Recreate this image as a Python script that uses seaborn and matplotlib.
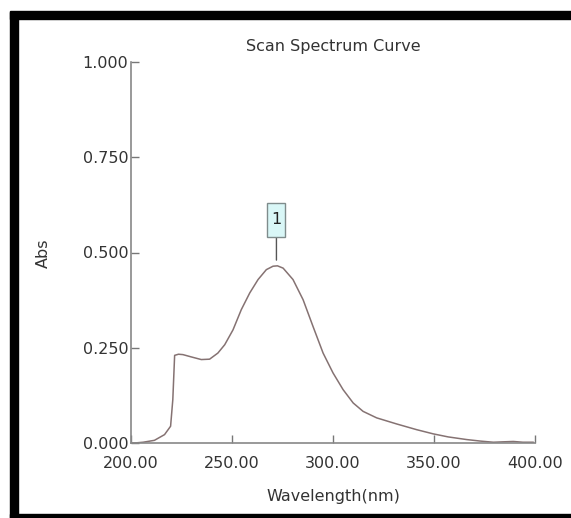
import numpy as np
import pandas as pd
import matplotlib.pyplot as plt
import seaborn as sns
from matplotlib.patches import Rectangle
from matplotlib.offsetbox import DrawingArea, AnnotationBbox

# values
wavelength = [200, 201.7, 206, 211.6, 216.6, 219.6, 220.7, 221.6, 223.5, 225.7, 229.8,
              234.8, 238.9, 243, 246.4, 250.5, 254.6, 258.8, 262.9, 267, 270.3, 272.5,
              275.3, 280.2, 285.2, 290.1, 295.1, 300, 305, 310, 314.9, 321.6, 331.5,
              341.4, 349.6, 357, 366.2, 373, 379.4, 384, 389.3, 394, 399.2]
absorb = [0.000, 0.000, 0.002, 0.007, 0.022, 0.044, 0.114, 0.230, 0.233, 0.232, 0.226,
          0.219, 0.220, 0.236, 0.258, 0.297, 0.350, 0.394, 0.429, 0.455, 0.464, 0.465,
          0.459, 0.429, 0.376, 0.306, 0.236, 0.184, 0.140, 0.105, 0.083, 0.066, 0.050,
          0.035, 0.024, 0.016, 0.009, 0.005, 0.002, 0.003, 0.004, 0.002, 0.002]
peak_labels = ["1"]
peak_x = [272]
peak_y = [0.464]
x_ticks = [200, 250, 300, 350, 400]
y_ticks = [0.0, 0.25, 0.5, 0.75, 1.0]

df = pd.DataFrame({"Wavelength": wavelength, "Abs": absorb})

sns.set_style("white")
plt.rcParams['font.family'] = ['DejaVu Sans']
fs = 11.5
txt = "#333333"

fig = plt.figure(figsize=(5.71, 5.18), dpi=100)
ax = fig.add_axes([131/571, 1-443/518, (535-131)/571, (443-62)/518])

sns.lineplot(data=df, x="Wavelength", y="Abs", ax=ax, color="#857272", linewidth=1.1)

# peak marker: tall narrow box with the peak number, joined by a short line
for lab, px, py in zip(peak_labels, peak_x, peak_y):
    da = DrawingArea(13, 24.5, 0, 0)
    da.add_artist(Rectangle((0, 0), 13, 24.5, fc="#d9f7f7", ec="#7f8c8c", lw=1))
    da.add_artist(plt.Text(6.5, 12.25, lab, ha="center", va="center",
                           fontsize=fs, color="#222222"))
    ab = AnnotationBbox(da, (px, py + 0.016), xybox=(0, 29), xycoords="data",
                        boxcoords="offset points", frameon=False, pad=0,
                        arrowprops=dict(arrowstyle="-", color="#555555", lw=1,
                                        shrinkA=0, shrinkB=0))
    ax.add_artist(ab)

ax.set_xlim(200, 400)
ax.set_ylim(0, 1.0)
ax.set_xticks(x_ticks)
ax.set_yticks(y_ticks)
ax.set_xticklabels(["%.2f" % t for t in x_ticks])
ax.set_yticklabels(["%.3f" % t for t in y_ticks])
ax.tick_params(direction="in", length=6, width=1, color="#777777",
               labelsize=fs, labelcolor=txt, left=True, bottom=True)
ax.tick_params(axis="x", pad=9)
ax.tick_params(axis="y", pad=2)
ax.set_xlabel("")
ax.set_ylabel("")
for s in ["top", "right"]:
    ax.spines[s].set_visible(False)
for s in ["left", "bottom"]:
    ax.spines[s].set_color("#888888")
    ax.spines[s].set_linewidth(1.2)

fig.text(333/571, 1-47/518, "Scan Spectrum Curve", ha="center", va="center",
         fontsize=fs, color=txt)
fig.text(333/571, 1-496/518, "Wavelength(nm)", ha="center", va="center",
         fontsize=fs, color=txt)
fig.text(43/571, 1-253/518, "Abs", ha="center", va="center", rotation=90,
         fontsize=fs, color=txt)

# black frame around the window (no right edge)
fig.patches.append(Rectangle((10/571, 0), 8/571, 1-11.5/518, transform=fig.transFigure,
                             color="black", zorder=0))
fig.patches.append(Rectangle((10/571, 1-19/518), 1, 7.5/518, transform=fig.transFigure,
                             color="black", zorder=0))
fig.patches.append(Rectangle((10/571, 0), 1, 4/518, transform=fig.transFigure,
                             color="black", zorder=0))

fig.savefig("out.png", dpi=100)
